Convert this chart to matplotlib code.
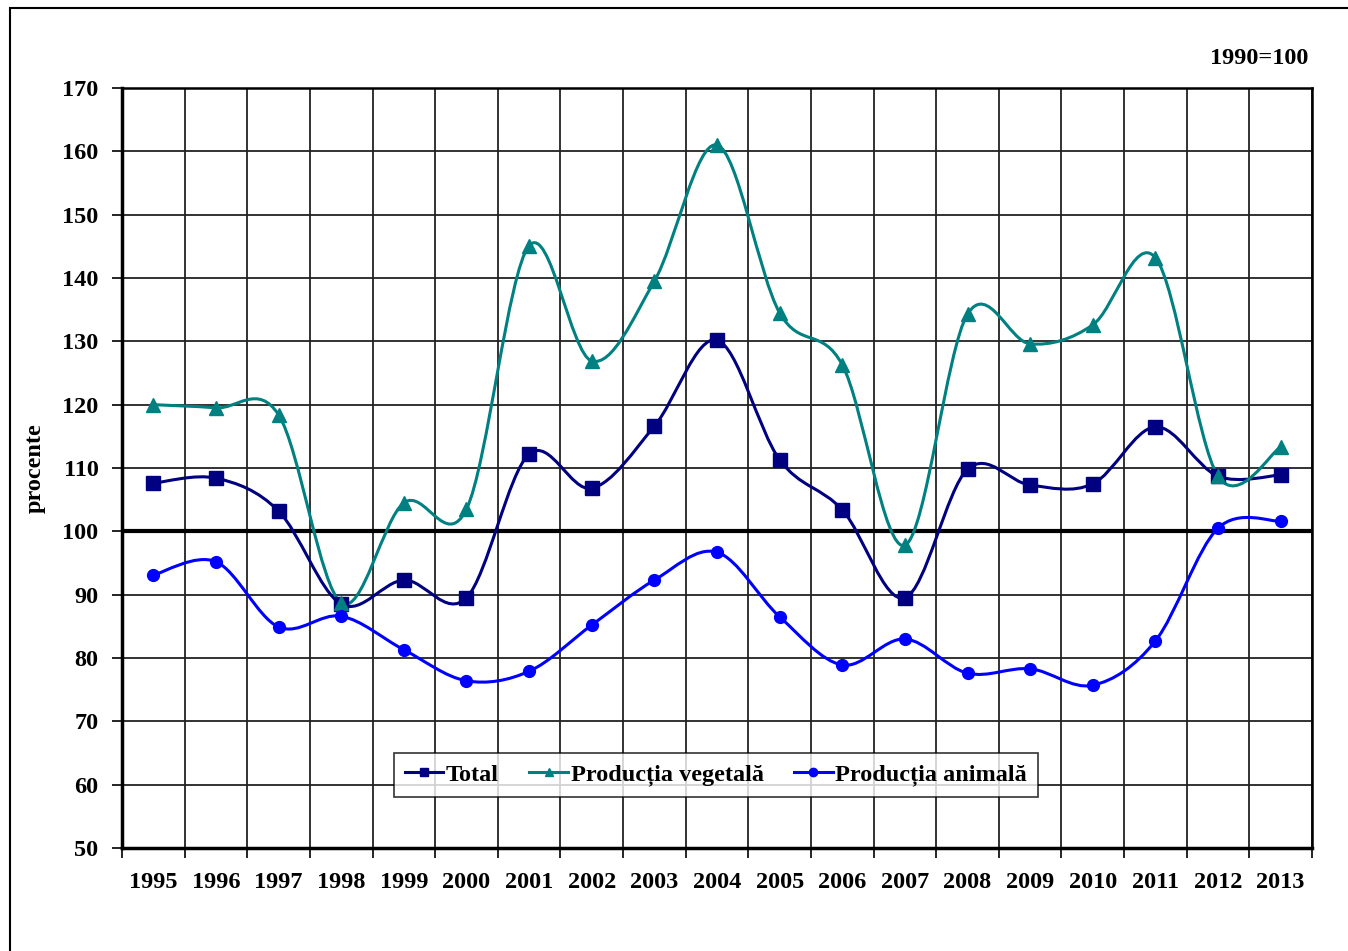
import numpy as np
import matplotlib.pyplot as plt
from matplotlib.path import Path
from matplotlib.patches import PathPatch, Rectangle

plt.rcParams['font.family'] = 'Liberation Serif'
plt.rcParams['font.weight'] = 'bold'

# Date (1990=100)
ani = ['1995', '1996', '1997', '1998', '1999', '2000', '2001', '2002', '2003', '2004',
       '2005', '2006', '2007', '2008', '2009', '2010', '2011', '2012', '2013']
total = [107.6, 108.4, 103.2, 88.5, 92.3, 89.5, 112.2, 106.8, 116.6, 130.2,
         111.3, 103.4, 89.5, 109.8, 107.3, 107.5, 116.5, 108.7, 108.9]
vegetala = [120.0, 119.5, 118.4, 88.7, 104.5, 103.5, 145.1, 126.9, 139.5, 161.0,
            134.5, 126.3, 97.8, 134.3, 129.6, 132.6, 143.2, 108.7, 113.3]
animala = [93.1, 95.2, 84.9, 86.6, 81.3, 76.4, 77.9, 85.2, 92.3, 96.7,
           86.5, 78.9, 83.0, 77.6, 78.3, 75.7, 82.7, 100.5, 101.6]

fs = 17.5


def curba_neteda(x, y):
    # linie netezita tip Excel (segmente Bezier cubice)
    p = np.column_stack([x, y]).astype(float)
    n = len(p)
    verts = [p[0]]
    codes = [Path.MOVETO]
    for i in range(n - 1):
        p0 = p[i - 1] if i > 0 else p[i]
        p3 = p[i + 2] if i + 2 < n else p[i + 1]
        c1 = p[i] + (p[i + 1] - p0) / 6
        c2 = p[i + 1] - (p3 - p[i]) / 6
        verts += [c1, c2, p[i + 1]]
        codes += [Path.CURVE4] * 3
    return Path(verts, codes)


fig = plt.figure(figsize=(13.48, 9.51), dpi=100)
fig.patches.append(Rectangle((10 / 1348, -0.01), 1.0, 1 - 8 / 951 + 0.01,
                             transform=fig.transFigure, fill=False,
                             edgecolor='black', linewidth=1.5))
ax = fig.add_axes([122 / 1348, 1 - 848 / 951, (1312 - 122) / 1348, (848 - 88) / 951])

x = np.arange(len(ani))
serii = [(total, '#000080', 's', 10, 'Total'),
         (vegetala, '#008080', '^', 9.5, 'Producția vegetală'),
         (animala, '#0000FF', 'o', 8.5, 'Producția animală')]

for y, c, m, ms, lab in serii:
    ax.add_patch(PathPatch(curba_neteda(x, y), facecolor='none', edgecolor=c,
                           linewidth=2.2, zorder=3))
    ax.plot(x, y, linestyle='none', marker=m, markersize=ms, color=c, zorder=4)
    ax.plot([], [], color=c, marker=m, markersize=6, linewidth=2.2, label=lab)

ax.axhline(100, color='black', linewidth=3, zorder=2)

ax.set_xlim(-0.5, len(ani) - 0.5)
ax.set_ylim(50, 170)
ax.set_yticks(np.arange(50, 171, 10))
ax.set_xticks(x)
ax.set_xticklabels(ani)
ax.set_xticks(np.arange(-0.5, len(ani)), minor=True)
ax.tick_params(axis='x', which='major', length=0, pad=17, labelsize=fs)
ax.tick_params(axis='x', which='minor', length=7, width=1.2, direction='out')
ax.tick_params(axis='y', length=7, width=1.2, pad=10, labelsize=fs)
ax.grid(True, which='minor', axis='x', color='#222222', linewidth=1.3)
ax.grid(True, which='major', axis='y', color='#222222', linewidth=1.3)
ax.set_axisbelow(True)
for s in ax.spines.values():
    s.set_linewidth(1.8)
ax.spines['left'].set_linewidth(2.5)
ax.spines['bottom'].set_linewidth(2.5)

ax.set_ylabel('procente', fontsize=fs, fontweight='bold', labelpad=12)
fig.text(1308 / 1348, 1 - 58 / 951, '1990=100', ha='right', va='center',
         fontsize=fs, fontweight='bold')

leg = ax.legend(loc='lower center', bbox_to_anchor=(0.499, 0.067), ncol=3,
                fontsize=fs, frameon=True, fancybox=False, edgecolor='black',
                handlelength=1.6, handletextpad=0.1, columnspacing=1.25,
                borderpad=0.45, borderaxespad=0)
leg.get_frame().set_linewidth(1.2)
leg.set_zorder(6)

fig.savefig('out.png', dpi=100, facecolor='white')
